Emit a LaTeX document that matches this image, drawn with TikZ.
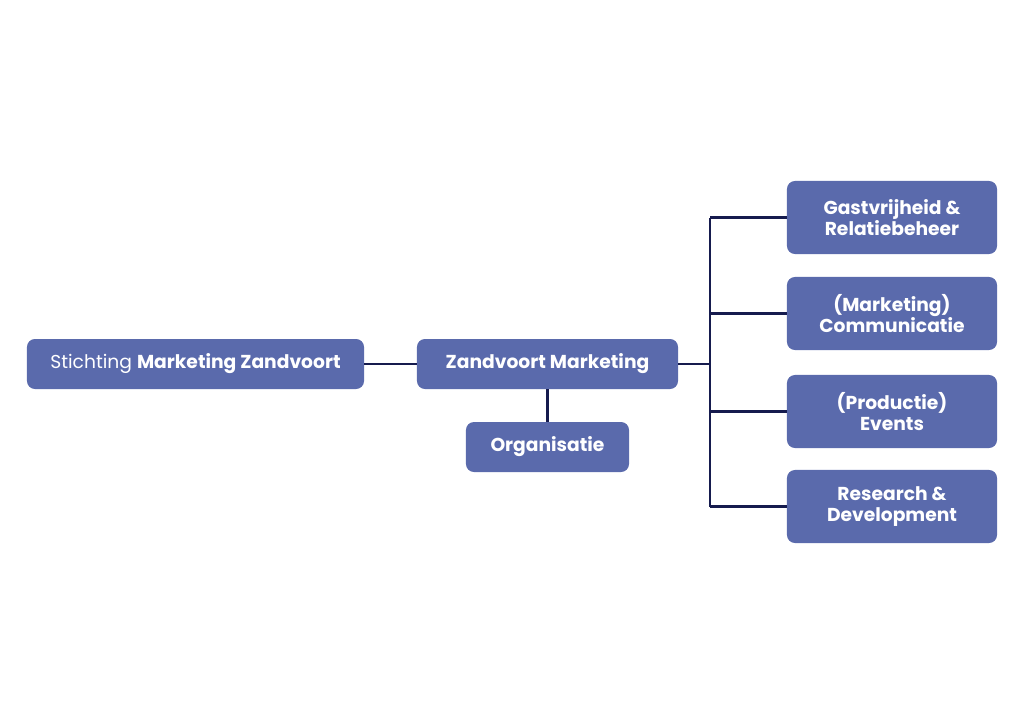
\documentclass[tikz,border=0pt]{standalone}
\usepackage{fontspec}
\setmainfont{Poppins}
\definecolor{boxblue}{HTML}{5A6AAC}
\definecolor{linenavy}{HTML}{161B4E}
\begin{document}
\begin{tikzpicture}[x=0.025cm, y=-0.025cm,
  unit/.style={fill=boxblue, text=white, rounded corners=0.2cm, inner sep=0pt,
    minimum height=1.25cm, align=center, font=\fontsize{13.3}{15}\selectfont\bfseries},
  dept/.style={unit, minimum width=5.25cm, minimum height=1.825cm},
  link/.style={linenavy, line width=2.1pt}]
\useasboundingbox (0,0) rectangle (1024,724);
\node[unit, minimum width=8.425cm] (stichting) at (195.5,364) {\mdseries Stichting \bfseries Marketing Zandvoort};
\node[unit, minimum width=6.525cm] (zm) at (547.5,364) {Zandvoort Marketing};
\node[unit, minimum width=4.075cm] (org) at (547.5,447) {Organisatie};
\node[dept] (gast) at (892,217.5) {Gastvrijheid \&\\Relatiebeheer};
\node[dept] (comm) at (892,313.5) {(Marketing)\\Communicatie};
\node[dept] (events) at (892,411.5) {(Productie)\\Events};
\node[dept] (rd) at (892,506.5) {Research \&\\Development};
\coordinate (bus) at (710,364);
\draw[link] (stichting) -- (zm);
\draw[link] (zm) -- (org);
\draw[link] (zm) -- (bus);
\draw[link] (bus |- gast) -- (bus |- rd);
\foreach \d in {gast,comm,events,rd}
  \draw[link] (bus |- \d) -- (\d.west);
\end{tikzpicture}
\end{document}
